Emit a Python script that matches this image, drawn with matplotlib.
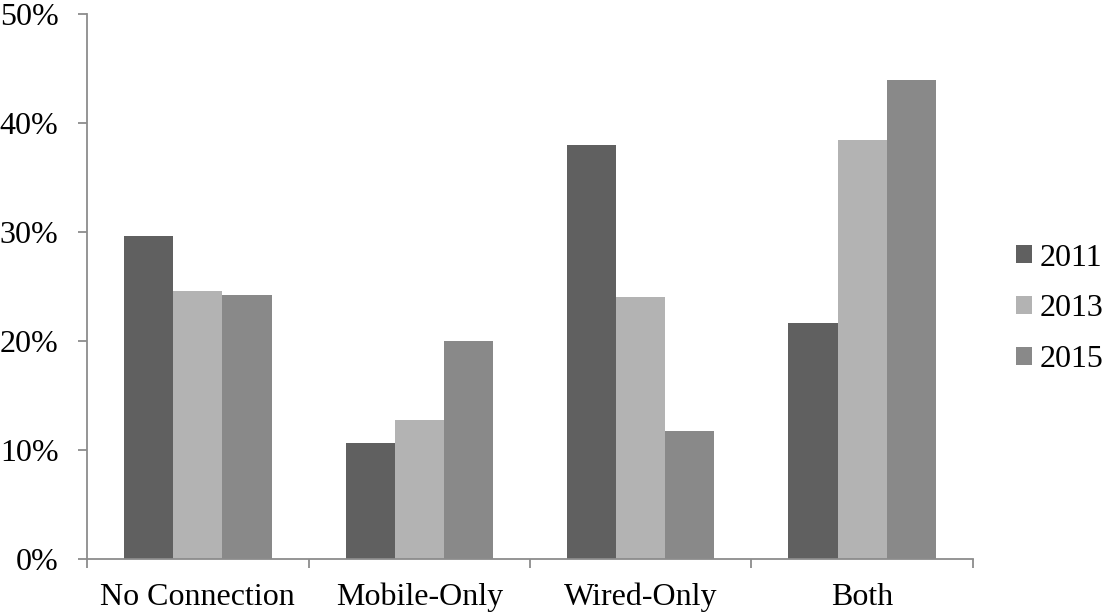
import matplotlib
matplotlib.use("Agg")
import matplotlib.pyplot as plt
from matplotlib.ticker import FuncFormatter, FixedLocator
from matplotlib.patches import Patch
import numpy as np

categories = ["No Connection", "Mobile-Only", "Wired-Only", "Both"]
years = ["2011", "2013", "2015"]
share_2011 = [29.7, 10.7, 38.0, 21.7]
share_2013 = [24.6, 12.8, 24.1, 38.5]
share_2015 = [24.3, 20.0, 11.8, 44.0]
colors = ["#606060", "#b3b3b3", "#898989"]

plt.rcParams["font.family"] = ["Liberation Serif", "DejaVu Serif"]
plt.rcParams["font.size"] = 23

fig = plt.figure(figsize=(11.06, 6.14), dpi=100)
ax = fig.add_axes([0.0787, 0.0891, 0.801, 0.8873])

x = np.arange(len(categories))
width = 0.222
series = [share_2011, share_2013, share_2015]
for i, (vals, col) in enumerate(zip(series, colors)):
    ax.bar(x + (i - 1) * width, vals, width=width, color=col, linewidth=0, label=years[i])

ax.set_xlim(-0.5, len(categories) - 0.5)
ax.set_ylim(0, 50)
ax.set_yticks(np.arange(0, 51, 10))
ax.yaxis.set_major_formatter(FuncFormatter(lambda v, p: f"{v:.0f}%"))

ax.set_xticks(x)
ax.set_xticklabels(categories)
ax.xaxis.set_minor_locator(FixedLocator(np.arange(-0.5, len(categories), 1.0)))
ax.tick_params(axis="x", which="major", length=0, pad=17)
ax.tick_params(axis="x", which="minor", length=6.5, width=1.3, color="#8c8c8c")
ax.tick_params(axis="y", length=6.5, width=1.3, color="#8c8c8c", pad=14)

for side in ["top", "right"]:
    ax.spines[side].set_visible(False)
for side in ["left", "bottom"]:
    ax.spines[side].set_color("#8c8c8c")
    ax.spines[side].set_linewidth(1.3)

handles = [Patch(facecolor=c, edgecolor="none") for c in colors]
fig.legend(handles, years, loc="center left", bbox_to_anchor=(0.9186, 0.497),
           frameon=False, handlelength=0.5, handleheight=0.5,
           handletextpad=0.25, labelspacing=0.68, borderpad=0, borderaxespad=0)

fig.savefig("out.png", dpi=100)
